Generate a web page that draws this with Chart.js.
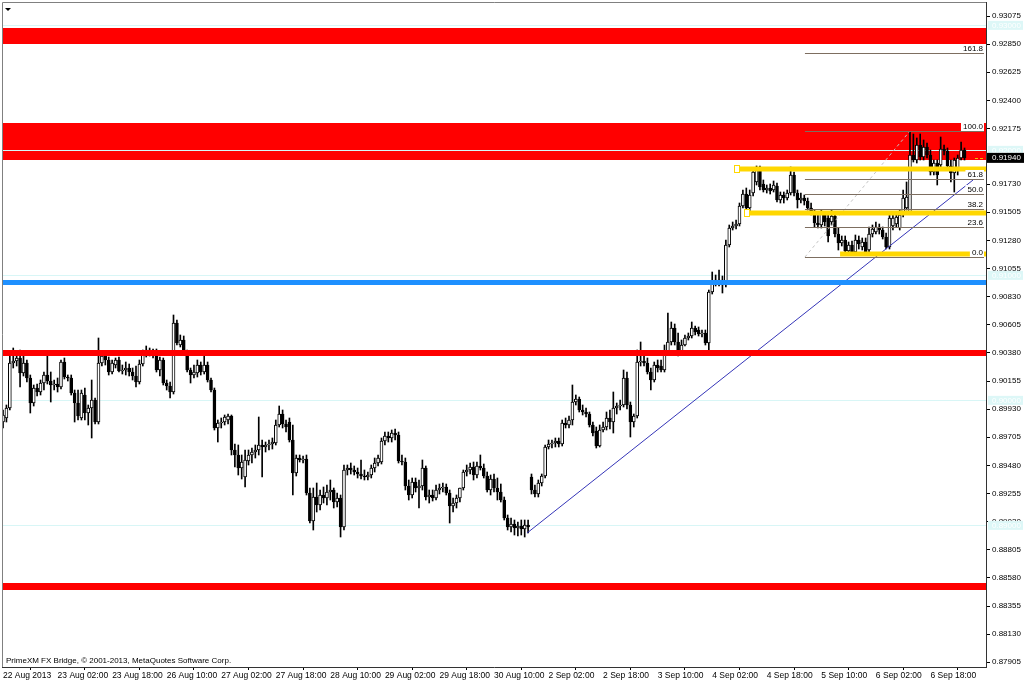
<!DOCTYPE html>
<html><head><meta charset="utf-8">
<script src="https://cdn.jsdelivr.net/npm/chart.js@4"></script>
<style>html,body{margin:0;padding:0;background:#fff;}canvas{display:block;}</style>
</head><body>
<canvas id="c" width="1024" height="682"></canvas>
<script>
const openP = [
0.89827,0.89859,0.89939,0.90299,0.90315,0.90339,0.90219,0.90299,0.90179,0.89979,
0.90099,0.90067,0.90139,0.90203,0.90155,0.90123,0.90131,0.90107,0.90307,0.90187,
0.90179,0.90059,0.89979,0.89859,0.90043,0.89899,0.89939,0.90003,0.89827,0.90299,
0.90355,0.90323,0.90227,0.90283,0.90323,0.90235,0.90243,0.90259,0.90227,0.90195,
0.90147,0.90291,0.90379,0.90403,0.90387,0.90387,0.90243,0.90323,0.90139,0.90115,
0.90067,0.90619,0.90443,0.90483,0.90379,0.90243,0.90203,0.90219,0.90283,0.90227,
0.90283,0.90163,0.90083,0.89779,0.89819,0.89827,0.89843,0.89875,0.89603,0.89563,
0.89459,0.89387,0.89515,0.89563,0.89587,0.89603,0.89643,0.89627,0.89643,0.89651,
0.89659,0.89803,0.89891,0.89811,0.89827,0.89683,0.89419,0.89539,0.89523,0.89531,
0.89259,0.89035,0.89227,0.89163,0.89243,0.89219,0.89267,0.89283,0.89187,0.89219,
0.88987,0.89443,0.89459,0.89443,0.89427,0.89411,0.89395,0.89387,0.89403,0.89459,
0.89499,0.89507,0.89675,0.89715,0.89699,0.89739,0.89723,0.89515,0.89507,0.89315,
0.89243,0.89347,0.89299,0.89315,0.89459,0.89227,0.89243,0.89219,0.89283,0.89299,
0.89307,0.89259,0.89155,0.89179,0.89219,0.89299,0.89427,0.89443,0.89467,0.89403,
0.89475,0.89459,0.89395,0.89283,0.89371,0.89299,0.89267,0.89203,0.89059,0.88987,
0.89011,0.88979,0.88995,0.88971,0.89003,0.89387,0.89283,0.89251,0.89339,0.89395,
0.89627,0.89651,0.89659,0.89675,0.89651,0.89819,0.89803,0.89843,0.89987,0.90011,
0.89923,0.89907,0.89891,0.89803,0.89755,0.89635,0.89763,0.89787,0.89859,0.89827,
0.89939,0.89955,0.89963,0.90179,0.89963,0.89827,0.89875,0.90307,0.90315,0.90299,
0.90227,0.90163,0.90283,0.90275,0.90243,0.90387,0.90467,0.90579,0.90467,0.90387,
0.90443,0.90499,0.90515,0.90579,0.90563,0.90531,0.90539,0.90459,0.90867,0.90939,
0.90963,0.90963,0.90923,0.91243,0.91379,0.91395,0.91411,0.91555,0.91651,0.91539,
0.91659,0.91747,0.91851,0.91731,0.91683,0.91699,0.91683,0.91715,0.91603,0.91643,
0.91619,0.91659,0.91803,0.91659,0.91603,0.91619,0.91595,0.91539,0.91499,0.91419,
0.91403,0.91491,0.91459,0.91427,0.91475,0.91331,0.91259,0.91283,0.91195,0.91243,
0.91187,0.91283,0.91227,0.91267,0.91203,0.91331,0.91347,0.91387,0.91363,0.91307,
0.91227,0.91395,0.91411,0.91379,0.91483,0.91539,0.91507,0.91963,0.91923,0.92043,
0.91947,0.92027,0.91963,0.91827,0.91899,0.91883,0.92011,0.91995,0.91875,0.91819,
0.91859,0.91939,0.92003];
const highP = [
0.89923,0.89963,0.90379,0.90419,0.90387,0.90403,0.90387,0.90323,0.90203,0.90123,
0.90131,0.90163,0.90227,0.90387,0.90227,0.90163,0.90179,0.90323,0.90339,0.90203,
0.90203,0.90083,0.90083,0.90083,0.90099,0.89963,0.90163,0.90019,0.90499,0.90387,
0.90379,0.90347,0.90323,0.90339,0.90347,0.90283,0.90307,0.90291,0.90259,0.90275,
0.90323,0.90403,0.90435,0.90419,0.90411,0.90411,0.90347,0.90339,0.90163,0.90147,
0.90683,0.90643,0.90523,0.90515,0.90403,0.90259,0.90283,0.90323,0.90307,0.90371,
0.90307,0.90179,0.90099,0.89843,0.89859,0.89883,0.89891,0.89883,0.89651,0.89643,
0.89563,0.89603,0.89603,0.89619,0.89643,0.89867,0.89683,0.89667,0.89683,0.89699,
0.89843,0.89955,0.89923,0.89843,0.89859,0.89803,0.89563,0.89563,0.89555,0.89563,
0.89299,0.89299,0.89339,0.89283,0.89307,0.89323,0.89363,0.89299,0.89259,0.89243,
0.89483,0.89483,0.89499,0.89475,0.89459,0.89523,0.89443,0.89427,0.89483,0.89539,
0.89563,0.89699,0.89747,0.89747,0.89763,0.89771,0.89747,0.89563,0.89539,0.89363,
0.89379,0.89379,0.89363,0.89523,0.89475,0.89283,0.89283,0.89323,0.89331,0.89339,
0.89331,0.89283,0.89219,0.89243,0.89299,0.89443,0.89483,0.89499,0.89507,0.89507,
0.89563,0.89491,0.89427,0.89403,0.89411,0.89379,0.89331,0.89227,0.89083,0.89059,
0.89043,0.89027,0.89043,0.89043,0.89043,0.89411,0.89323,0.89363,0.89411,0.89643,
0.89683,0.89683,0.89699,0.89699,0.89843,0.89859,0.89875,0.90123,0.90043,0.90027,
0.89963,0.89939,0.89907,0.89827,0.89787,0.89803,0.89827,0.89907,0.89923,0.90067,
0.89979,0.90003,0.90243,0.90227,0.89987,0.89891,0.90403,0.90467,0.90363,0.90339,
0.90259,0.90307,0.90323,0.90323,0.90443,0.90699,0.90627,0.90611,0.90539,0.90483,
0.90523,0.90539,0.90627,0.90595,0.90587,0.90563,0.90563,0.90883,0.91027,0.91003,
0.91043,0.90995,0.91283,0.91403,0.91427,0.91443,0.91579,0.91683,0.91699,0.91683,
0.91859,0.91875,0.91875,0.91763,0.91723,0.91731,0.91755,0.91739,0.91667,0.91667,
0.91683,0.91867,0.91827,0.91683,0.91659,0.91643,0.91619,0.91579,0.91523,0.91483,
0.91523,0.91507,0.91507,0.91523,0.91499,0.91379,0.91315,0.91315,0.91267,0.91275,
0.91323,0.91315,0.91299,0.91299,0.91387,0.91403,0.91427,0.91411,0.91387,0.91339,
0.91483,0.91491,0.91499,0.91523,0.91683,0.91747,0.92147,0.92131,0.92099,0.92131,
0.92083,0.92059,0.92003,0.91923,0.91923,0.92107,0.92043,0.92019,0.91923,0.91939,
0.91963,0.92067,0.92019];
const lowP = [
0.89779,0.89827,0.89923,0.90259,0.90275,0.90107,0.90195,0.90147,0.89899,0.89955,
0.90035,0.90043,0.90083,0.90131,0.89987,0.90083,0.90067,0.90091,0.90171,0.90155,
0.90043,0.89827,0.89843,0.89843,0.89843,0.89803,0.89699,0.89811,0.89811,0.90275,
0.90283,0.90203,0.90211,0.90259,0.90227,0.90211,0.90203,0.90195,0.90163,0.90107,
0.90131,0.90275,0.90347,0.90355,0.90339,0.90227,0.90195,0.90123,0.90083,0.90019,
0.90051,0.90443,0.90427,0.90371,0.90227,0.90139,0.90179,0.90187,0.90203,0.90211,
0.90147,0.90067,0.89763,0.89667,0.89779,0.89803,0.89811,0.89563,0.89467,0.89403,
0.89371,0.89307,0.89483,0.89499,0.89539,0.89563,0.89387,0.89587,0.89603,0.89611,
0.89643,0.89787,0.89779,0.89747,0.89667,0.89243,0.89395,0.89507,0.89499,0.89243,
0.89019,0.88963,0.89107,0.89123,0.89179,0.89163,0.89203,0.89139,0.89147,0.88907,
0.88963,0.89403,0.89411,0.89403,0.89379,0.89371,0.89363,0.89363,0.89379,0.89427,
0.89475,0.89491,0.89643,0.89667,0.89667,0.89683,0.89499,0.89483,0.89283,0.89203,
0.89219,0.89267,0.89139,0.89283,0.89203,0.89179,0.89195,0.89203,0.89251,0.89267,
0.89243,0.89019,0.89107,0.89139,0.89187,0.89283,0.89395,0.89411,0.89363,0.89379,
0.89443,0.89379,0.89267,0.89243,0.89267,0.89203,0.89187,0.89043,0.88963,0.88947,
0.88923,0.88915,0.88923,0.88907,0.88939,0.89251,0.89227,0.89227,0.89315,0.89379,
0.89611,0.89619,0.89627,0.89627,0.89635,0.89779,0.89779,0.89803,0.89963,0.89907,
0.89883,0.89867,0.89787,0.89715,0.89619,0.89627,0.89747,0.89763,0.89771,0.89739,
0.89891,0.89923,0.89947,0.89931,0.89707,0.89787,0.89859,0.90275,0.90275,0.90211,
0.90083,0.90147,0.90227,0.90227,0.90227,0.90363,0.90443,0.90443,0.90355,0.90363,
0.90435,0.90483,0.90499,0.90523,0.90515,0.90507,0.90443,0.90379,0.90851,0.90915,
0.90915,0.90859,0.90907,0.91227,0.91363,0.91371,0.91395,0.91539,0.91507,0.91491,
0.91635,0.91723,0.91683,0.91667,0.91659,0.91651,0.91667,0.91587,0.91579,0.91579,
0.91603,0.91643,0.91635,0.91539,0.91579,0.91563,0.91523,0.91483,0.91387,0.91379,
0.91379,0.91395,0.91267,0.91403,0.91307,0.91203,0.91235,0.91171,0.91179,0.91163,
0.91171,0.91211,0.91203,0.91171,0.91187,0.91307,0.91331,0.91331,0.91291,0.91211,
0.91211,0.91363,0.91387,0.91363,0.91467,0.91523,0.91491,0.91907,0.91899,0.91923,
0.91923,0.91939,0.91803,0.91803,0.91723,0.91859,0.91963,0.91859,0.91747,0.91667,
0.91803,0.91923,0.91923];
const closeP = [
0.89883,0.89939,0.90299,0.90315,0.90339,0.90219,0.90299,0.90179,0.89979,0.90099,
0.90067,0.90139,0.90203,0.90155,0.90123,0.90131,0.90107,0.90307,0.90187,0.90179,
0.90059,0.89979,0.89875,0.90059,0.89899,0.89939,0.90003,0.89827,0.90299,0.90355,
0.90323,0.90227,0.90299,0.90323,0.90235,0.90243,0.90259,0.90227,0.90195,0.90147,
0.90291,0.90379,0.90403,0.90387,0.90371,0.90243,0.90323,0.90139,0.90115,0.90067,
0.90619,0.90459,0.90483,0.90379,0.90243,0.90203,0.90227,0.90283,0.90227,0.90283,
0.90163,0.90083,0.89779,0.89819,0.89827,0.89867,0.89875,0.89603,0.89563,0.89459,
0.89507,0.89523,0.89563,0.89587,0.89603,0.89643,0.89627,0.89643,0.89651,0.89667,
0.89803,0.89891,0.89811,0.89787,0.89683,0.89419,0.89539,0.89523,0.89531,0.89259,
0.89035,0.89227,0.89163,0.89243,0.89219,0.89267,0.89283,0.89187,0.89219,0.88987,
0.89443,0.89459,0.89443,0.89427,0.89411,0.89395,0.89387,0.89403,0.89459,0.89499,
0.89539,0.89675,0.89715,0.89699,0.89739,0.89723,0.89515,0.89507,0.89315,0.89243,
0.89347,0.89299,0.89315,0.89459,0.89227,0.89243,0.89219,0.89283,0.89299,0.89307,
0.89259,0.89155,0.89179,0.89219,0.89299,0.89427,0.89443,0.89467,0.89403,0.89475,
0.89459,0.89395,0.89283,0.89371,0.89299,0.89267,0.89203,0.89059,0.88987,0.89011,
0.88979,0.88995,0.88971,0.89003,0.88987,0.89283,0.89251,0.89339,0.89395,0.89627,
0.89651,0.89659,0.89675,0.89651,0.89819,0.89803,0.89843,0.89987,0.90011,0.89923,
0.89907,0.89891,0.89803,0.89739,0.89635,0.89763,0.89787,0.89859,0.89827,0.89939,
0.89955,0.89963,0.90179,0.89963,0.89827,0.89875,0.90307,0.90315,0.90299,0.90227,
0.90163,0.90283,0.90259,0.90243,0.90387,0.90467,0.90579,0.90467,0.90387,0.90443,
0.90499,0.90515,0.90579,0.90547,0.90531,0.90539,0.90459,0.90867,0.90939,0.90963,
0.90939,0.90923,0.91243,0.91379,0.91395,0.91411,0.91555,0.91651,0.91539,0.91643,
0.91827,0.91843,0.91707,0.91683,0.91699,0.91675,0.91723,0.91603,0.91643,0.91619,
0.91659,0.91803,0.91659,0.91603,0.91619,0.91595,0.91539,0.91499,0.91419,0.91403,
0.91491,0.91427,0.91315,0.91475,0.91331,0.91259,0.91283,0.91195,0.91243,0.91187,
0.91283,0.91251,0.91267,0.91187,0.91331,0.91371,0.91387,0.91363,0.91307,0.91227,
0.91459,0.91459,0.91467,0.91483,0.91619,0.91627,0.91963,0.91923,0.92043,0.91947,
0.92027,0.91963,0.91827,0.91899,0.91803,0.92011,0.91995,0.91875,0.91819,0.91923,
0.91939,0.92003,0.91940];

const xTickIndex = [0,16,32,48,64,80,96,112,128,144,160,176,192,208,224,240,256,272];
const xTickLabels = ['22 Aug 2013','23 Aug 02:00','23 Aug 18:00','26 Aug 10:00','27 Aug 02:00','27 Aug 18:00',
  '28 Aug 10:00','29 Aug 02:00','29 Aug 18:00','30 Aug 10:00','2 Sep 02:00','2 Sep 18:00',
  '3 Sep 10:00','4 Sep 02:00','4 Sep 18:00','5 Sep 10:00','6 Sep 02:00','6 Sep 18:00'];
const yTickValues = [0.93075,0.92850,0.92625,0.92400,0.92175,0.91950,0.91730,0.91505,0.91280,0.91055,
  0.90830,0.90605,0.90380,0.90155,0.89930,0.89705,0.89480,0.89255,0.89030,0.88805,0.88580,0.88355,0.88130,0.87905];

const redZones = [[0.92851,0.92979],[0.91923,0.92219]];
const redLevels = [0.90379,0.88511];
const blueLevels = [0.90943];
const yellowLevels = [0.91851,0.91499,0.91171];
const yellowStart = [214.7,217.6,245.5];
const roundLevels = [0.93,0.92,0.91,0.90,0.89];
const fibLevels = [0,23.6,38.2,50,61.8,100,161.8];
const fibLow = 0.91147, fibHigh = 0.92155;
const fibStart = 235.2, fibEnd = 266;
const trendLine = [{x:153.7,y:0.88939},{x:284.5,y:0.91763}];
const lastPrice = 0.91940;
const copyright = 'PrimeXM FX Bridge, \u00a9 2001-2013, MetaQuotes Software Corp.';

const N = closeP.length;
const bodies = [], wicks = [], bodyColors = [];
for (let i = 0; i < N; i++) {
  bodies.push({x: i, y: [openP[i], closeP[i]]});
  wicks.push({x: i, y: [lowP[i], highP[i]]});
  bodyColors.push(closeP[i] >= openP[i] ? '#ffffff' : '#000000');
}

const FONT = "'Liberation Sans', Arial, sans-serif";
const noPad = s => { s.paddingTop = 0; s.paddingBottom = 0; s.paddingLeft = 0; s.paddingRight = 0; };

const mt4 = {
  id: 'mt4',
  beforeDatasetsDraw(chart) {
    const {ctx, chartArea: a, scales: {x, y}} = chart;
    ctx.save();
    ctx.beginPath(); ctx.rect(a.left, a.top, a.right - a.left, a.bottom - a.top); ctx.clip();
    ctx.fillStyle = '#ff0000';
    redZones.forEach(z => {
      const t = y.getPixelForValue(z[1]), b = y.getPixelForValue(z[0]);
      ctx.fillRect(a.left, t, a.right - a.left, b - t);
    });
    ctx.strokeStyle = '#d8f6f6'; ctx.lineWidth = 1;
    roundLevels.forEach(v => {
      const py = Math.round(y.getPixelForValue(v)) + 0.5;
      ctx.beginPath(); ctx.moveTo(a.left, py); ctx.lineTo(a.right, py); ctx.stroke();
    });
    ctx.restore();
  },
  afterDatasetsDraw(chart) {
    const {ctx, chartArea: a, scales: {x, y}} = chart;
    ctx.save();
    ctx.beginPath(); ctx.rect(a.left, a.top, a.right - a.left, a.bottom - a.top); ctx.clip();
    const redW = [6, 7];
    ctx.fillStyle = '#ff0000';
    redLevels.forEach((v, k) => { const py = y.getPixelForValue(v); ctx.fillRect(a.left, py - redW[k]/2, a.right - a.left, redW[k]); });
    ctx.fillStyle = '#1e90ff';
    blueLevels.forEach(v => { const py = y.getPixelForValue(v); ctx.fillRect(a.left, py - 2.5, a.right - a.left, 5); });
    ctx.fillStyle = '#ffd700';
    yellowLevels.forEach((v, k) => {
      const py = y.getPixelForValue(v), px = x.getPixelForValue(yellowStart[k]);
      ctx.fillRect(px, py - 2.5, a.right - px, 5);
    });
    ctx.strokeStyle = '#ffd700'; ctx.fillStyle = '#fff'; ctx.lineWidth = 1;
    [0, 1].forEach(k => {
      const py = Math.round(y.getPixelForValue(yellowLevels[k])), px = Math.round(x.getPixelForValue(yellowStart[k]));
      ctx.fillRect(px - 0.5, py - 3.5, 5, 7); ctx.strokeRect(px - 0.5, py - 3.5, 5, 7);
    });
    const fx = x.getPixelForValue(fibStart);
    ctx.strokeStyle = '#7d6e60'; ctx.lineWidth = 1;
    fibLevels.forEach(l => {
      const py = Math.round(y.getPixelForValue(fibLow + (fibHigh - fibLow) * l / 100)) + 0.5;
      ctx.beginPath(); ctx.moveTo(fx, py); ctx.lineTo(a.right - 2, py); ctx.stroke();
    });
    ctx.font = '8px ' + FONT; ctx.textAlign = 'right'; ctx.textBaseline = 'bottom';
    fibLevels.forEach(l => {
      const py = Math.round(y.getPixelForValue(fibLow + (fibHigh - fibLow) * l / 100));
      const t = l.toFixed(1), w = ctx.measureText(t).width;
      ctx.fillStyle = '#fff'; ctx.fillRect(a.right - 3 - w - 2, py - 9, w + 3, 9);
      ctx.fillStyle = '#000'; ctx.fillText(t, a.right - 3, py);
    });
    ctx.restore();
  },
  afterDraw(chart) {
    const {ctx, chartArea: a, scales: {y}} = chart;
    ctx.save();
    ctx.strokeStyle = '#808080'; ctx.lineWidth = 1;
    ctx.beginPath(); ctx.moveTo(a.left + 0.5, a.bottom); ctx.lineTo(a.left + 0.5, a.top + 0.5); ctx.lineTo(a.right, a.top + 0.5); ctx.stroke();
    ctx.font = '8px ' + FONT; ctx.textAlign = 'left'; ctx.textBaseline = 'middle';
    roundLevels.forEach(v => {
      const py = y.getPixelForValue(v);
      ctx.fillStyle = '#ddf7f7'; ctx.fillRect(a.right + 2, py - 4.5, 35, 9);
      ctx.fillStyle = '#ffffff'; ctx.fillText(v.toFixed(5), a.right + 6, py);
    });
    const lp = y.getPixelForValue(lastPrice);
    ctx.fillStyle = '#000'; ctx.fillRect(a.right + 1, lp - 5, 38, 10);
    ctx.fillStyle = '#fff'; ctx.fillText(lastPrice.toFixed(5), a.right + 6, lp);
    ctx.fillStyle = '#e8c000';
    ctx.fillRect(a.right - 11, Math.round(lp), 3, 1); ctx.fillRect(a.right - 6, Math.round(lp), 3, 1);
    ctx.fillStyle = '#000';
    ctx.beginPath(); ctx.moveTo(a.left + 3, a.top + 6); ctx.lineTo(a.left + 9, a.top + 6); ctx.lineTo(a.left + 6, a.top + 9); ctx.closePath(); ctx.fill();
    ctx.textBaseline = 'middle';
    ctx.fillText(copyright, a.left + 4, a.bottom - 6);
    ctx.restore();
  }
};

new Chart(document.getElementById('c'), {
  data: {
    datasets: [
      {type: 'line', data: trendLine, borderColor: '#3535b8', borderWidth: 1, pointRadius: 0, order: 0},
      {type: 'line', data: [{x: fibStart, y: fibLow}, {x: fibEnd, y: fibHigh}], borderColor: '#c4c4c4', borderWidth: 1, borderDash: [3, 3], pointRadius: 0, order: 0},
      {type: 'bar', data: bodies, backgroundColor: bodyColors, borderColor: '#000', borderWidth: 1, borderSkipped: false,
        barThickness: 3, maxBarThickness: 3, grouped: false, minBarLength: 1, order: 1},
      {type: 'bar', data: wicks, backgroundColor: '#000', borderWidth: 0, barThickness: 1, maxBarThickness: 1, grouped: false, order: 2}
    ]
  },
  options: {
    responsive: false, animation: false, devicePixelRatio: 1,
    layout: {padding: {left: 2, top: 2, right: 0, bottom: 0}},
    plugins: {legend: {display: false}, tooltip: {enabled: false}},
    scales: {
      x: {
        type: 'linear', min: -0.3, max: 288.3, bounds: 'data', offset: false,
        afterBuildTicks: s => { s.ticks = xTickIndex.map(v => ({value: v})); },
        afterFit: s => { s.height = 15; noPad(s); },
        ticks: {autoSkip: false, maxRotation: 0, minRotation: 0, align: 'start', padding: 1, color: '#000',
          font: {family: FONT, size: 8.5}, callback: (v, i) => xTickLabels[i]},
        grid: {drawOnChartArea: false, drawTicks: true, tickLength: 3, color: '#000'},
        border: {display: true, color: '#333'}
      },
      y: {
        position: 'right', min: 0.87867, max: 0.93187, bounds: 'data',
        afterBuildTicks: s => { s.ticks = yTickValues.map(v => ({value: v})); },
        afterFit: s => { s.width = 38; noPad(s); },
        ticks: {autoSkip: false, padding: 2, color: '#000', font: {family: FONT, size: 8},
          callback: v => Number(v).toFixed(5)},
        grid: {drawOnChartArea: false, drawTicks: true, tickLength: 4, color: '#000'},
        border: {display: true, color: '#333'}
      }
    }
  },
  plugins: [mt4]
});
</script>
</body></html>
